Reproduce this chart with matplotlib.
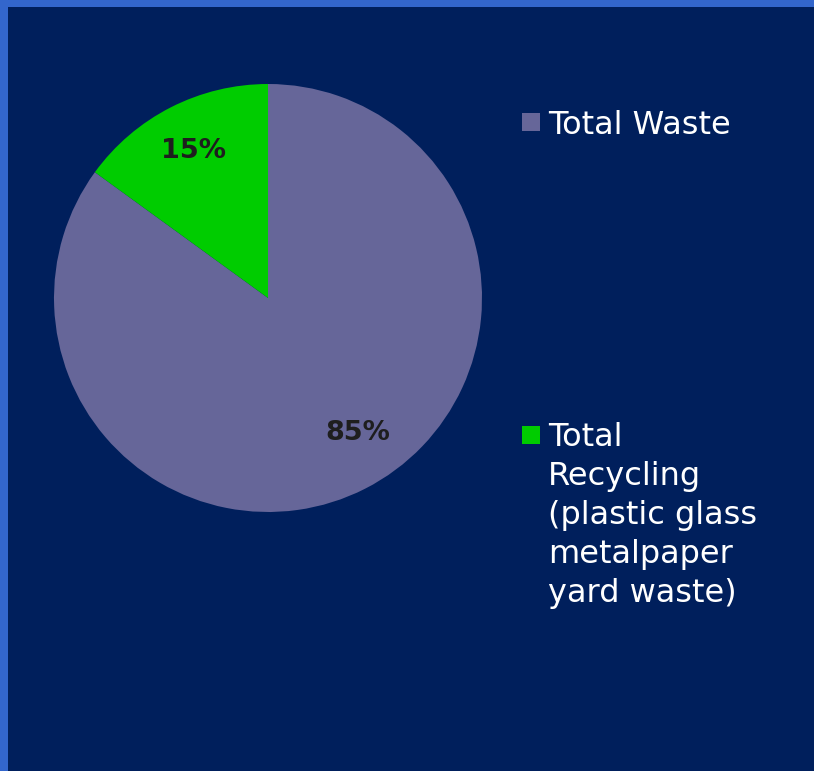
import matplotlib
matplotlib.use("Agg")
import matplotlib.pyplot as plt
from matplotlib.patches import Rectangle

# Data
legend_labels = ["Total Waste", "Total\nRecycling\n(plastic glass\nmetalpaper\nyard waste)"]
values = [85, 15]
colors = ["#666699", "#00CC00"]

bg = "#001F5C"
border = "#3366CC"

W, H = 814, 771
fig = plt.figure(figsize=(W / 100, H / 100), dpi=100, facecolor=border)

# dark panel, blue strip only on top and left
panel = fig.add_axes([8 / W, 0, 1 - 8 / W, 1 - 7 / H])
panel.set_facecolor(bg)
panel.set_xticks([])
panel.set_yticks([])
for s in panel.spines.values():
    s.set_visible(False)

# pie
cx, cy, r = 268, 298, 214
ax = fig.add_axes([(cx - r) / W, 1 - (cy + r) / H, 2 * r / W, 2 * r / H])
ax.set_facecolor("none")
wedges, texts, autotexts = ax.pie(values, colors=colors, startangle=90, counterclock=False,
                                  autopct="%1.0f%%", pctdistance=0.77, radius=1,
                                  wedgeprops=dict(linewidth=0))
for t in autotexts:
    t.set_fontsize(19.5)
    t.set_fontweight("bold")
    t.set_color("#1E1E1E")
# Excel puts the big slice's label a bit further round
autotexts[0].set_position((0.42, -0.63))
ax.set_xlim(-1, 1)
ax.set_ylim(-1, 1)
ax.set_aspect("equal")
ax.axis("off")

# legend (entries spaced apart like the original)
text_top = [110, 422]  # px from top
box_top = [113, 426]
for lab, col, yt, yb in zip(legend_labels, colors, text_top, box_top):
    fig.patches.append(Rectangle((522 / W, 1 - (yb + 18) / H), 18 / W, 18 / H,
                                 transform=fig.transFigure, facecolor=col, edgecolor="none"))
    fig.text(548 / W, 1 - yt / H, lab, color="white", fontsize=23,
             va="top", ha="left", linespacing=1.335)

fig.savefig("out.png", dpi=100, facecolor=fig.get_facecolor())
